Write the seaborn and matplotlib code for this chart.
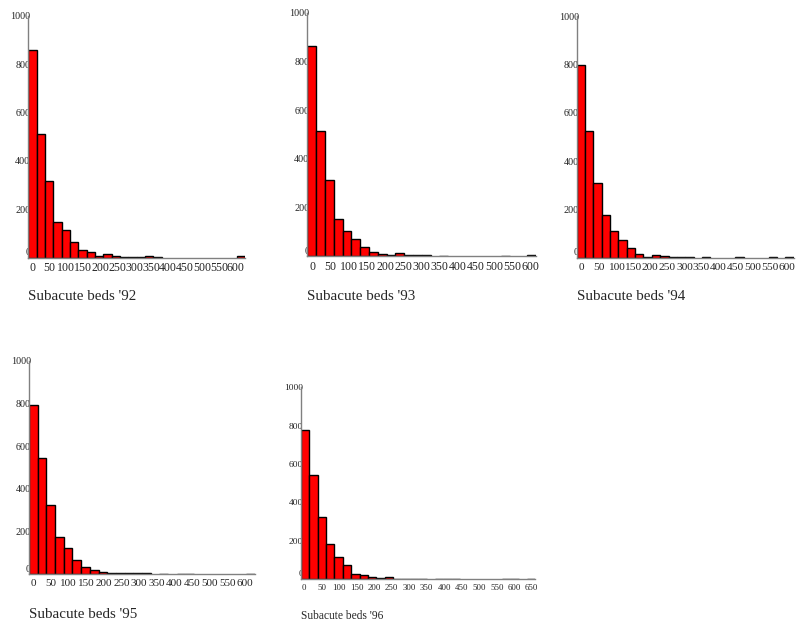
import numpy as np
import pandas as pd
import matplotlib.pyplot as plt
import seaborn as sns
from matplotlib.transforms import ScaledTranslation

# bin counts (left to right)
counts_92 = [858, 512, 316, 146, 114, 66, 33, 22, 8, 14, 8, 4, 1, 1, 5, 1,
             0, 0, 0, 0, 0, 0, 0, 0, 0, 5]
counts_93 = [863, 514, 311, 154, 104, 70, 38, 17, 7, 5, 11, 4, 4, 3, 0, 2,
             0, 0, 0, 0, 0, 0, 2, 0, 0, 3]
counts_94 = [796, 525, 310, 177, 110, 72, 39, 16, 4, 11, 7, 3, 3, 3, 0, 2,
             0, 0, 0, 1, 0, 0, 0, 1, 0, 4]
counts_95 = [791, 542, 323, 173, 124, 67, 34, 20, 8, 5, 6, 3, 3, 3, 0, 1,
             0, 1, 1, 0, 0, 0, 0, 0, 0, 1]
counts_96 = [779, 541, 322, 181, 117, 74, 28, 19, 9, 5, 9, 2, 2, 2, 2, 0,
             2, 1, 1, 0, 0, 0, 0, 0, 1, 1, 0, 1]

titles = ["Subacute beds '92", "Subacute beds '93", "Subacute beds '94",
          "Subacute beds '95", "Subacute beds '96"]
bin_lo = [-12, -14, -15, -12, -9]
bin_hi = [627, 617, 620, 628, 660]
x_ticks = [list(range(0, 601, 50))] * 4 + [list(range(0, 651, 50))]
y_ticks = [0, 200, 400, 600, 800, 1000]

all_counts = [counts_92, counts_93, counts_94, counts_95, counts_96]

sns.set_style("white")
plt.rcParams['font.family'] = ['Liberation Serif', 'DejaVu Serif']

W, H = 796, 627
fig = plt.figure(figsize=(W / 100, H / 100), dpi=100)

# axes boxes in pixels: left, right, y of 0, y of 1000
boxes = [(28.3, 245, 257.5, 15.7),
         (307.3, 536.3, 256, 12.7),
         (576.7, 793.7, 257.7, 16),
         (29, 255, 574, 360.7),
         (301, 535.3, 579, 387.3)]
title_y = [297, 297, 297, 614, 616]
xtick_fs = [8.6, 8.6, 8.2, 8.0, 6.4]
ytick_fs = [7.3, 7.3, 7.3, 7.3, 6.8]
title_fs = [10.8, 10.8, 10.8, 10.8, 8.3]

for i in range(5):
    l, r, b, t = boxes[i]
    ax = fig.add_axes([l / W, 1 - b / H, (r - l) / W, (b - t) / H])
    counts = all_counts[i]
    edges = np.linspace(bin_lo[i], bin_hi[i], len(counts) + 1)
    df = pd.DataFrame({'beds': (edges[:-1] + edges[1:]) / 2, 'n': counts})
    sns.histplot(data=df, x='beds', weights='n', bins=edges.tolist(),
                 color='red', edgecolor='black', linewidth=1, alpha=1, ax=ax)
    for p in ax.patches:
        if p.get_height() == 0:
            p.set_visible(False)
    ax.set_xlim(edges[0], edges[-1])
    ax.set_ylim(0, 1000)
    ax.set_xlabel('')
    ax.set_ylabel('')
    ax.set_xticks(x_ticks[i])
    ax.set_yticks(y_ticks)
    ax.tick_params(axis='x', length=2, width=0.8, color='black', pad=1.5,
                   labelsize=xtick_fs[i])
    ax.tick_params(axis='y', length=2, width=0.8, color='black', pad=-3.5,
                   labelsize=ytick_fs[i])
    for s in ['top', 'right']:
        ax.spines[s].set_visible(False)
    for s in ['left', 'bottom']:
        ax.spines[s].set_color('#808080')
        ax.spines[s].set_linewidth(1)
    ax.patch.set_alpha(0)
    ax.set_axisbelow(True)
    lab0 = ax.get_yticklabels()[0]
    lab0.set_transform(lab0.get_transform() +
                       ScaledTranslation(0, 4.3 / 72, fig.dpi_scale_trans))
    fig.text(l / W, 1 - title_y[i] / H, titles[i], ha='left', va='center',
             fontsize=title_fs[i])

plt.savefig('out.png', dpi=100)
